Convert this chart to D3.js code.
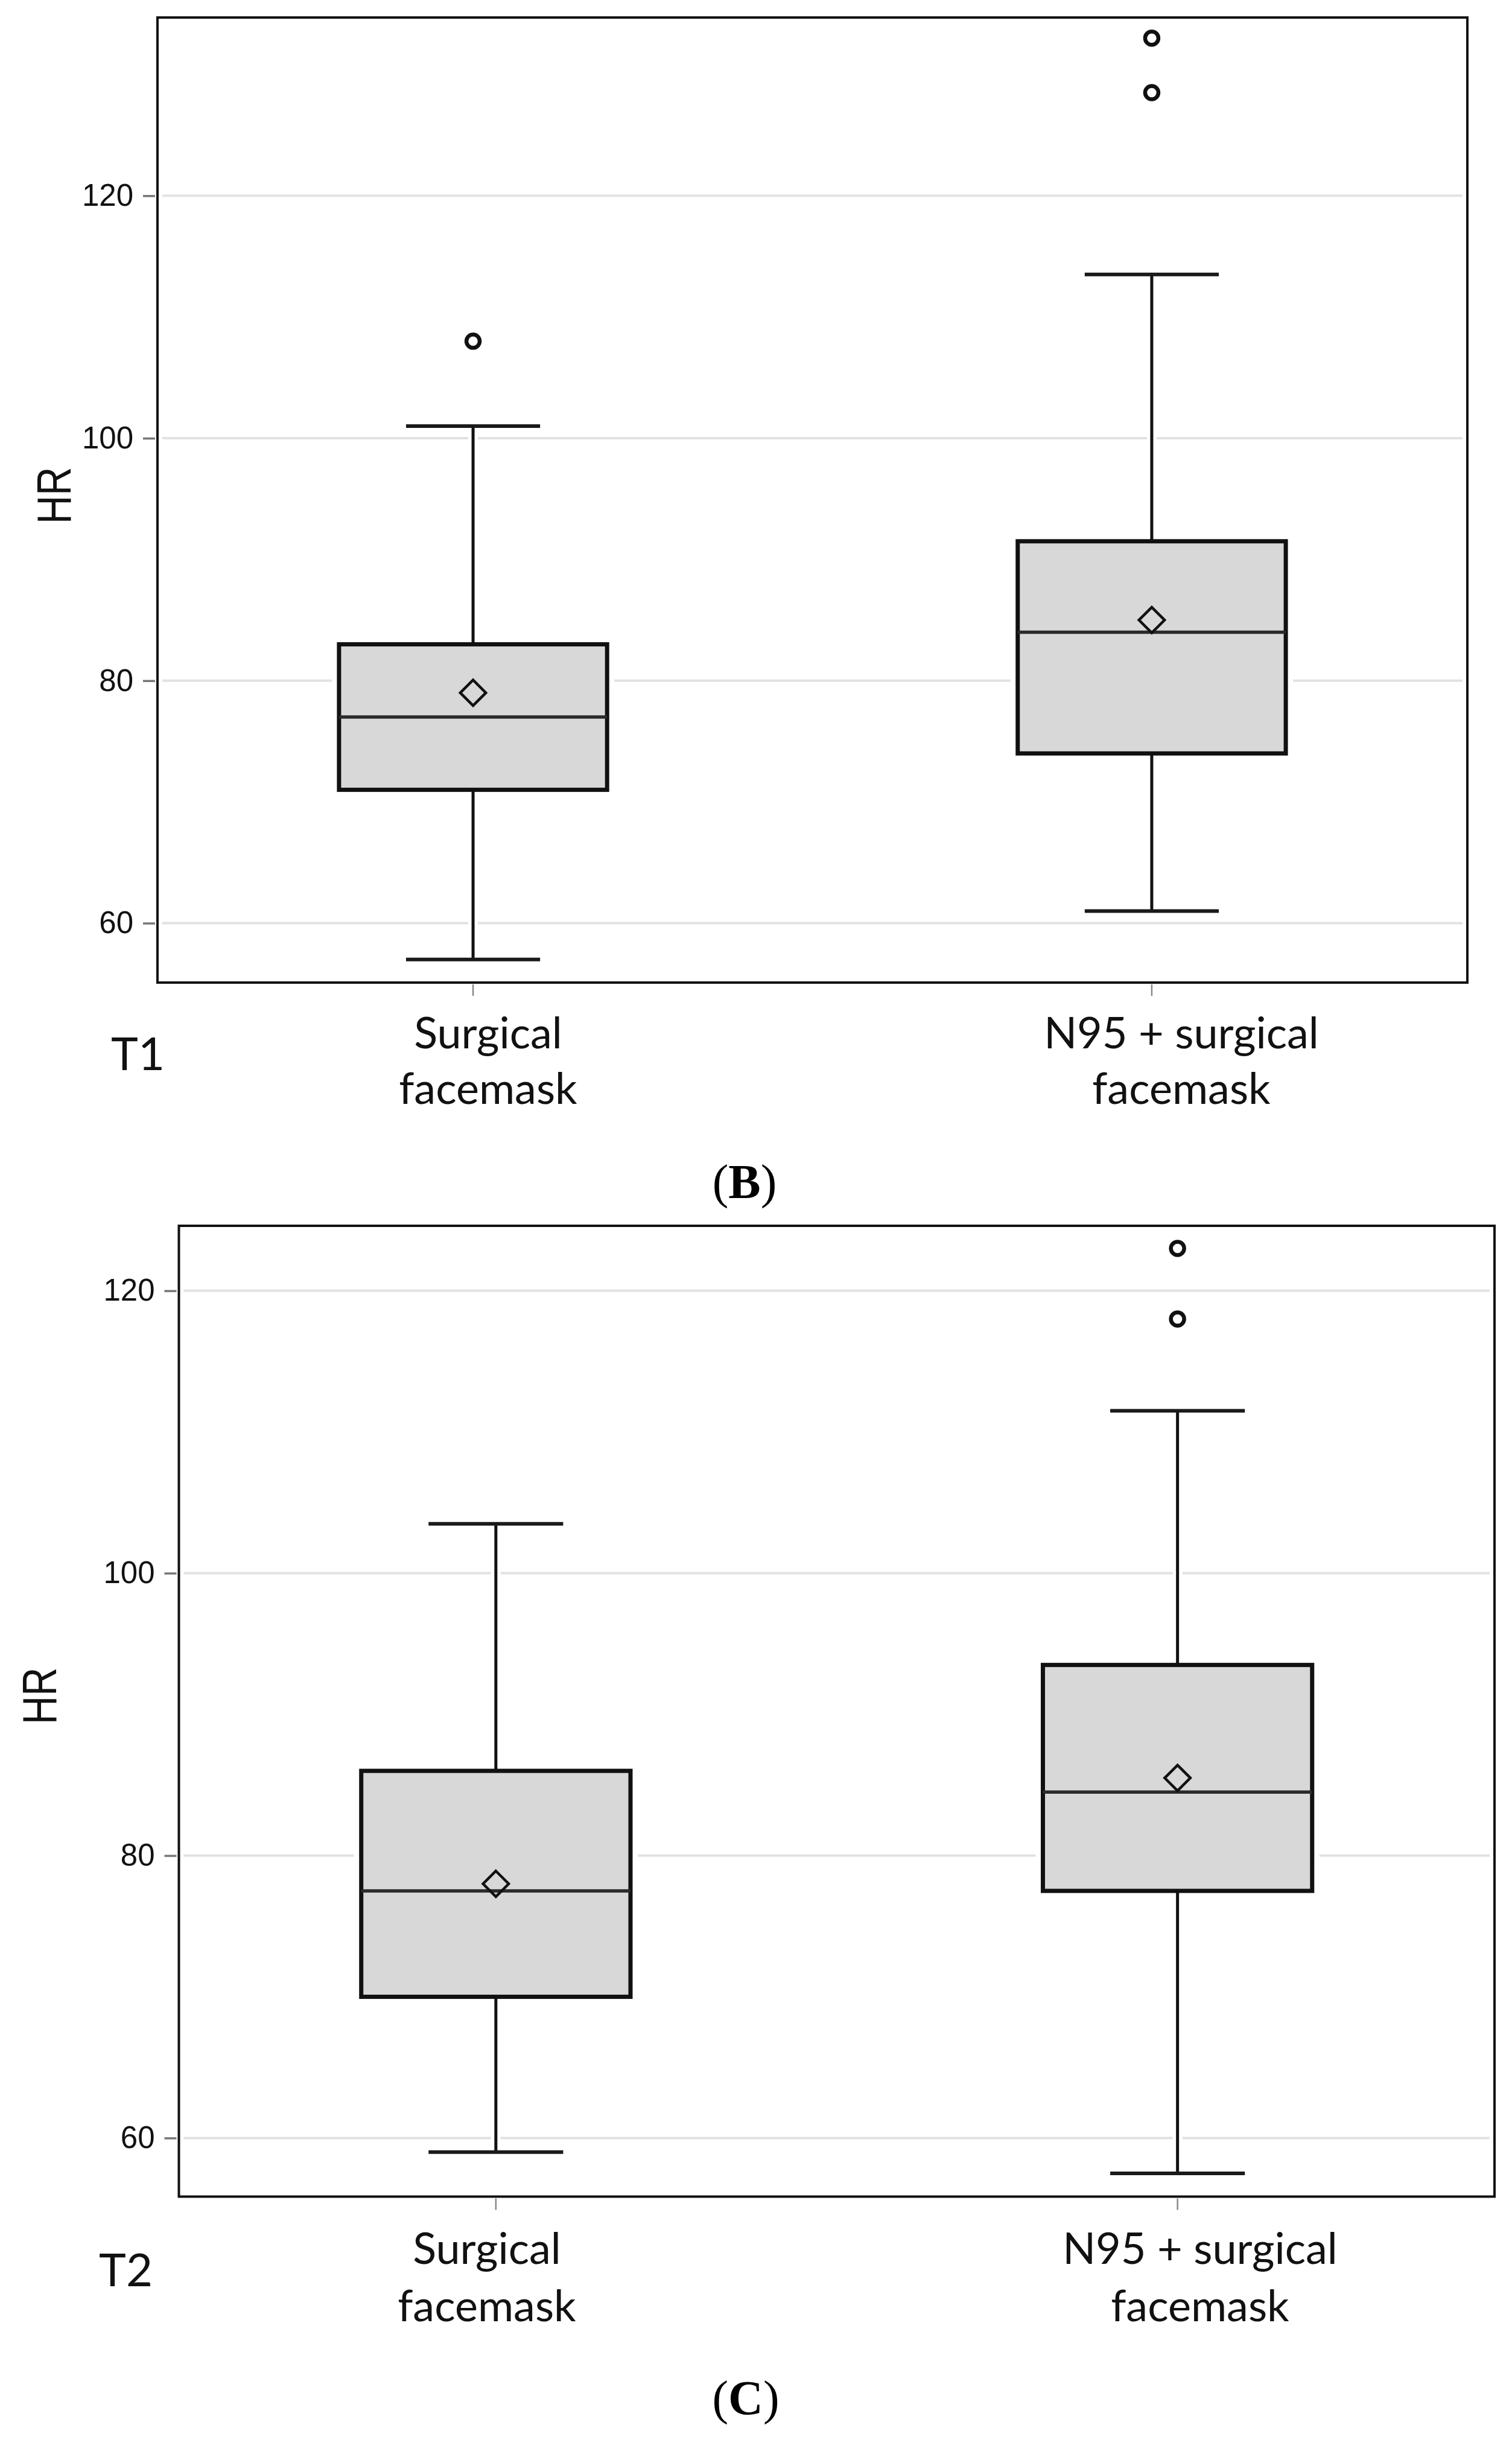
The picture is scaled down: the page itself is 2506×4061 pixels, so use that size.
<!DOCTYPE html>
<html>
<head>
<meta charset="utf-8">
<script src="https://cdn.jsdelivr.net/npm/d3@7"></script>
<style>
  body { margin: 0; background: #fff; }
</style>
</head>
<body>
<div id="chart"></div>
<script>
// categories and tick labels
const groups = ["Surgical facemask", "N95 + surgical facemask"];
const groupLines = [["Surgical", "facemask"], ["N95 + surgical", "facemask"]];
const yTicks = [60, 80, 100, 120];

// T1 (panel B) box statistics
const t1Min = [57, 61];
const t1Q1 = [71, 74];
const t1Median = [77, 84];
const t1Q3 = [83, 91.5];
const t1Max = [101, 113.5];
const t1Mean = [79, 85];
const t1Outliers = [[108], [128.5, 133]];

// T2 (panel C)
const t2Min = [59, 57.5];
const t2Q1 = [70, 77.5];
const t2Median = [77.5, 84.5];
const t2Q3 = [86, 93.5];
const t2Max = [103.5, 111.5];
const t2Mean = [78, 85.5];
const t2Outliers = [[], [118, 123]];

const width = 2506;
const height = 4061;

const svg = d3.select("#chart")
    .append("svg")
    .attr("width", width)
    .attr("height", height);

// layout of each panel (page coordinates)
const layoutT1 = {
    left: 261, right: 2432, top: 29, bottom: 1628,
    yDomain: [55.1, 134.7],
    labelX: [809, 1958], labelY: [1737, 1829],
    timeLabel: "T1", timeX: 184, timeY: 1773,
    hrX: 88, hrY: 821,
    caption: "B", captionX: 1234, captionY: 1985
};
const layoutT2 = {
    left: 296.5, right: 2477, top: 2031, bottom: 3639.5,
    yDomain: [55.85, 124.6],
    labelX: [807, 1989], labelY: [3751, 3846],
    timeLabel: "T2", timeX: 164, timeY: 3788,
    hrX: 64, hrY: 2810,
    caption: "C", captionX: 1236, captionY: 4000
};

const labelFont = "Lato, 'Open Sans', sans-serif";
const axisFont = "'Liberation Sans', Arial, sans-serif";

const drawPanel = (stats, L) => {
    const g = svg.append("g");

    const y = d3.scaleLinear()
        .domain(L.yDomain)
        .range([L.bottom, L.top]);

    const x = d3.scalePoint()
        .domain(groups)
        .range([L.left, L.right])
        .padding(0.465);

    const boxW = x.step() * 0.395;
    const capW = boxW / 2;

    const rows = groups.map((name, i) => ({
        name,
        min: stats.min[i], q1: stats.q1[i], median: stats.median[i],
        q3: stats.q3[i], max: stats.max[i], mean: stats.mean[i],
        outliers: stats.outliers[i]
    }));

    // grid lines
    g.append("g")
        .selectAll("line")
        .data(yTicks)
        .join("line")
        .attr("x1", L.left + 8)
        .attr("x2", L.right - 8)
        .attr("y1", d => y(d))
        .attr("y2", d => y(d))
        .attr("stroke", "#e2e2e2")
        .attr("stroke-width", 4);

    // y axis
    const gy = g.append("g")
        .attr("transform", `translate(${L.left - 4},0)`)
        .call(d3.axisLeft(y).tickValues(yTicks).tickSize(20).tickPadding(16));
    gy.select(".domain").remove();
    gy.selectAll(".tick line")
        .attr("stroke", "#777")
        .attr("stroke-width", 3.5);
    gy.selectAll(".tick text")
        .attr("font-family", axisFont)
        .attr("font-size", 51)
        .attr("fill", "#111");

    // x ticks
    g.append("g")
        .selectAll("line")
        .data(groups)
        .join("line")
        .attr("x1", d => x(d))
        .attr("x2", d => x(d))
        .attr("y1", L.bottom + 3)
        .attr("y2", L.bottom + 22)
        .attr("stroke", "#888")
        .attr("stroke-width", 2.5);

    const boxes = g.append("g")
        .selectAll("g")
        .data(rows)
        .join("g")
        .attr("transform", d => `translate(${x(d.name)},0)`);

    // white halo so grid lines stop short of the marks
    boxes.append("rect")
        .attr("x", -boxW / 2 - 12)
        .attr("width", boxW + 24)
        .attr("y", d => y(d.q3) - 12)
        .attr("height", d => y(d.q1) - y(d.q3) + 24)
        .attr("fill", "#fff");
    boxes.append("path")
        .attr("d", d => `M0,${y(d.max)}V${y(d.q3)}M0,${y(d.q1)}V${y(d.min)}`)
        .attr("stroke", "#fff")
        .attr("stroke-width", 16);

    // whiskers
    boxes.append("path")
        .attr("d", d => `M0,${y(d.max)}V${y(d.q3)}M0,${y(d.q1)}V${y(d.min)}`)
        .attr("stroke", "#111")
        .attr("stroke-width", 5);
    boxes.append("path")
        .attr("d", d => `M${-capW / 2},${y(d.max)}H${capW / 2}M${-capW / 2},${y(d.min)}H${capW / 2}`)
        .attr("stroke", "#1a1a1a")
        .attr("stroke-width", 6);

    // box
    boxes.append("rect")
        .attr("x", -boxW / 2)
        .attr("width", boxW)
        .attr("y", d => y(d.q3))
        .attr("height", d => y(d.q1) - y(d.q3))
        .attr("fill", "#d8d8d8")
        .attr("stroke", "#111")
        .attr("stroke-width", 7);

    // median
    boxes.append("line")
        .attr("x1", -boxW / 2)
        .attr("x2", boxW / 2)
        .attr("y1", d => y(d.median))
        .attr("y2", d => y(d.median))
        .attr("stroke", "#2a2a2a")
        .attr("stroke-width", 5.5);

    // mean
    boxes.append("path")
        .attr("transform", d => `translate(0,${y(d.mean)})`)
        .attr("d", d3.symbol(d3.symbolDiamond2, 1150))
        .attr("fill", "none")
        .attr("stroke", "#111")
        .attr("stroke-width", 4.5);

    // outliers
    boxes.selectAll("circle")
        .data(d => d.outliers)
        .join("circle")
        .attr("cx", 0)
        .attr("cy", d => y(d))
        .attr("r", 11)
        .attr("fill", "#fff")
        .attr("stroke", "#111")
        .attr("stroke-width", 6.5);

    // frame
    g.append("rect")
        .attr("x", L.left)
        .attr("y", L.top)
        .attr("width", L.right - L.left)
        .attr("height", L.bottom - L.top)
        .attr("fill", "none")
        .attr("stroke", "#111")
        .attr("stroke-width", 4);

    // category labels
    const lab = g.append("g")
        .selectAll("text")
        .data(groupLines)
        .join("text")
        .attr("text-anchor", "middle")
        .attr("font-family", labelFont)
        .attr("font-size", 72)
        .attr("fill", "#111");
    lab.selectAll("tspan")
        .data((d, i) => d.map((t, k) => ({ t, k, i })))
        .join("tspan")
        .attr("x", d => L.labelX[d.i])
        .attr("y", d => L.labelY[d.k])
        .text(d => d.t);

    // time label
    g.append("text")
        .attr("x", L.timeX)
        .attr("y", L.timeY)
        .attr("font-family", labelFont)
        .attr("font-size", 76)
        .attr("fill", "#111")
        .text(L.timeLabel);

    // y title
    g.append("text")
        .attr("transform", `translate(${L.hrX},${L.hrY}) rotate(-90) scale(0.82,1)`)
        .attr("text-anchor", "middle")
        .attr("dy", "0.36em")
        .attr("font-family", axisFont)
        .attr("font-size", 80)
        .attr("fill", "#111")
        .text("HR");

    // panel caption
    const cap = svg.append("text")
        .attr("x", L.captionX)
        .attr("y", L.captionY)
        .attr("text-anchor", "middle")
        .attr("font-family", "'Liberation Serif', 'Times New Roman', serif")
        .attr("font-size", 80)
        .attr("fill", "#000");
    cap.append("tspan").text("(");
    cap.append("tspan").attr("font-weight", "bold").text(L.caption);
    cap.append("tspan").text(")");
};

drawPanel({ min: t1Min, q1: t1Q1, median: t1Median, q3: t1Q3, max: t1Max, mean: t1Mean, outliers: t1Outliers }, layoutT1);
drawPanel({ min: t2Min, q1: t2Q1, median: t2Median, q3: t2Q3, max: t2Max, mean: t2Mean, outliers: t2Outliers }, layoutT2);
</script>
</body>
</html>
